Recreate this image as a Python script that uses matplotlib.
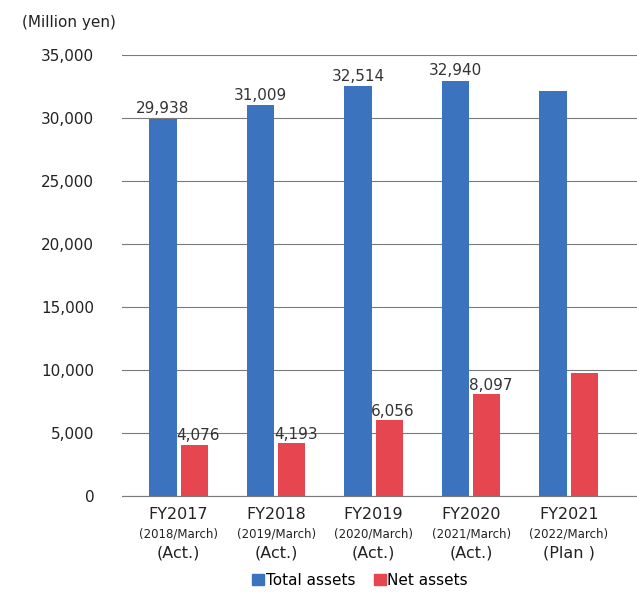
import matplotlib.pyplot as plt
import numpy as np
from matplotlib.patches import Patch

plt.rcParams['font.family'] = ['DejaVu Sans Condensed', 'Liberation Sans Narrow', 'DejaVu Sans']

years = ['FY2017', 'FY2018', 'FY2019', 'FY2020', 'FY2021']
periods = ['(2018/March)', '(2019/March)', '(2020/March)', '(2021/March)', '(2022/March)']
status = ['(Act.)', '(Act.)', '(Act.)', '(Act.)', '(Plan )']
totalAssets = [29938, 31009, 32514, 32940, 32150]
netAssets = [4076, 4193, 6056, 8097, 9750]
totalLabels = ['29,938', '31,009', '32,514', '32,940', '']
netLabels = ['4,076', '4,193', '6,056', '8,097', '']

blue = '#3b73bf'
red = '#e5464f'

xAxis = np.arange(len(years))

fig = plt.figure(figsize=(6.37, 5.92), dpi=100)
ax = fig.add_axes([0.1915, 0.162, 0.8085, 0.745])
ax.bar(xAxis - 0.16, totalAssets, 0.28, color=blue, zorder=3)
ax.bar(xAxis + 0.16, netAssets, 0.28, color=red, zorder=3)

for i in xAxis:
    ax.text(i - 0.16, totalAssets[i] + 200, totalLabels[i], ha='center', va='bottom',
            fontsize=11, color='#333333', zorder=4)
    ax.text(i + 0.2, netAssets[i] + 100, netLabels[i], ha='center', va='bottom',
            fontsize=11, color='#333333', zorder=4)

ax.set_xlim(-0.58, 4.7)
ax.set_ylim(0, 35000)
ax.set_yticks(range(0, 35001, 5000))
ax.set_yticklabels([f'{v:,}' for v in range(0, 35001, 5000)], fontsize=11, color='#222222')
ax.yaxis.grid(True, color='#7a7a7a', linewidth=0.8, zorder=0)
ax.tick_params(axis='y', length=0, pad=20)
ax.set_xticks([])
for s in ['left', 'right', 'top']:
    ax.spines[s].set_visible(False)
ax.spines['bottom'].set_color('#7a7a7a')
ax.spines['bottom'].set_linewidth(0.8)

# category labels, three lines each
trans = ax.get_xaxis_transform()
for i in xAxis:
    ax.text(i, -0.025, years[i], transform=trans, ha='center', va='top', fontsize=11.5, color='#222222')
    ax.text(i, -0.072, periods[i], transform=trans, ha='center', va='top', fontsize=8.5, color='#222222')
    ax.text(i, -0.112, status[i], transform=trans, ha='center', va='top', fontsize=11.5, color='#222222')

fig.text(0.035, 0.962, '(Million yen)', fontsize=11, color='#222222', va='center')

handles = [Patch(color=blue, label='Total assets'), Patch(color=red, label='Net assets')]
fig.legend(handles=handles, loc='center', bbox_to_anchor=(0.565, 0.02), ncol=2, frameon=False,
           fontsize=11, handlelength=0.8, handleheight=0.8, handletextpad=0.1, columnspacing=1.2)

fig.savefig('out.png', dpi=100)
